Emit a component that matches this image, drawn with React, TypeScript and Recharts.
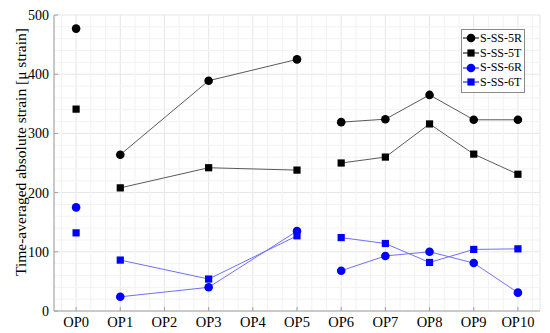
import React from 'react';
import {
  CartesianGrid,
  Legend,
  Line,
  LineChart,
  ReferenceLine,
  XAxis,
  YAxis,
} from 'recharts';

const categories = ['OP0', 'OP1', 'OP2', 'OP3', 'OP4', 'OP5', 'OP6', 'OP7', 'OP8', 'OP9', 'OP10'];

// values per category, null where nothing was measured
const s5R = [477, 264, null, 389, null, 425, 319, 324, 365, 323, 323];
const s5T = [341, 208, null, 242, null, 238, 250, 260, 316, 265, 231];
const s6R = [175, 24, null, 40, null, 135, 68, 93, 100, 81, 31];
const s6T = [132, 86, null, 54, null, 127, 124, 114, 82, 104, 105];

// points joined by a line
const segments = [[0], [1, 3, 5], [6, 7, 8, 9, 10]];

const yTicks = [0, 100, 200, 300, 400, 500];
const xTicks = categories.map((_, i) => i);

const series = [
  { name: 'S-SS-5R', values: s5R, color: '#000000', line: '#5a5a5a', shape: 'circle' },
  { name: 'S-SS-5T', values: s5T, color: '#000000', line: '#5a5a5a', shape: 'square' },
  { name: 'S-SS-6R', values: s6R, color: '#0000ff', line: '#6f6fff', shape: 'circle' },
  { name: 'S-SS-6T', values: s6T, color: '#0000ff', line: '#6f6fff', shape: 'square' },
];

// minor grid (3 per x interval, 5 per y interval)
const minorX: number[] = [];
for (let i = -1; i <= 10; i++) {
  [1 / 3, 2 / 3].forEach(f => {
    const v = i + f;
    if (v > -0.5 && v < 10.5) minorX.push(v);
  });
}
const minorY: number[] = [];
for (let v = 20; v < 500; v += 20) if (v % 100 !== 0) minorY.push(v);

const FONT = '"Liberation Serif", "DejaVu Serif", serif';
const FRAME = '#a0a0a0';

const makeDot = (shape: string, color: string, key: string) => (props: any) => {
  const { cx, cy, index } = props;
  if (cx == null || cy == null) return <g key={`${key}-${index}`} />;
  if (shape === 'circle') {
    return <circle key={`${key}-${index}`} cx={cx} cy={cy} r={4.3} fill={color} />;
  }
  return (
    <rect key={`${key}-${index}`} x={cx - 3.6} y={cy - 3.6} width={7.2} height={7.2} fill={color} />
  );
};

const LegendBox = () => (
  <div
    style={{
      border: '1px solid #8a8a8a',
      background: '#fff',
      padding: '1px 2px 2px 1px',
      fontFamily: FONT,
      fontSize: 12,
      lineHeight: '14.7px',
    }}
  >
    {series.map(s => (
      <div key={s.name} style={{ display: 'flex', alignItems: 'center', whiteSpace: 'nowrap' }}>
        <svg width={16} height={12} style={{ marginRight: 1 }}>
          <line x1={0} y1={6} x2={16} y2={6} stroke={s.color} strokeWidth={1} />
          {s.shape === 'circle' ? (
            <circle cx={8} cy={6} r={4.3} fill={s.color} />
          ) : (
            <rect x={4.4} y={2.4} width={7.2} height={7.2} fill={s.color} />
          )}
        </svg>
        <span>{s.name}</span>
      </div>
    ))}
  </div>
);

export default function App() {
  return (
    <div style={{ position: 'absolute', left: 0, top: 0, width: 550, height: 333, background: '#fff' }}>
      <style>{'body{margin:0}'}</style>
      <LineChart width={550} height={333} margin={{ top: 15, right: 10, bottom: 0, left: 0 }}>
        <CartesianGrid stroke="#e6e6e6" />
        {minorX.map(v => (
          <ReferenceLine key={`mx-${v}`} x={v} stroke="#f2f2f2" strokeWidth={1} />
        ))}
        {minorY.map(v => (
          <ReferenceLine key={`my-${v}`} y={v} stroke="#f2f2f2" strokeWidth={1} />
        ))}
        <XAxis
          type="number"
          dataKey="x"
          domain={[-0.5, 10.5]}
          ticks={xTicks}
          tickFormatter={(v: number) => categories[v]}
          allowDataOverflow
          height={22}
          tickSize={-4}
          tickMargin={10}
          stroke={FRAME}
          tick={{ fill: '#000', fontFamily: FONT, fontSize: 14.5 }}
        />
        <XAxis
          xAxisId="top"
          orientation="top"
          type="number"
          domain={[-0.5, 10.5]}
          ticks={xTicks}
          allowDataOverflow
          height={0}
          tickSize={-4}
          tickFormatter={() => ''}
          stroke={FRAME}
        />
        <YAxis
          type="number"
          domain={[0, 500]}
          ticks={yTicks}
          width={54}
          tickSize={-4}
          tickMargin={9}
          stroke={FRAME}
          tick={{ fill: '#000', fontFamily: FONT, fontSize: 14 }}
          label={{
            content: () => (
              <text
                x={20}
                y={152}
                transform="rotate(-90 20 152)"
                textAnchor="middle"
                dominantBaseline="central"
                fontFamily={FONT}
                fontSize={15.5}
                fill="#000"
              >
                Time-averaged absolute strain [μ strain]
              </text>
            ),
          }}
        />
        <YAxis
          yAxisId="right"
          orientation="right"
          type="number"
          domain={[0, 500]}
          ticks={yTicks}
          width={0}
          tickSize={-4}
          tickFormatter={() => ''}
          stroke={FRAME}
        />
        {series.flatMap(s =>
          segments.map((seg, j) => {
            const key = `${s.name}-${j}`;
            const data = seg
              .filter(i => s.values[i] != null)
              .map(i => ({ x: i, y: s.values[i] }));
            return (
              <Line
                key={key}
                data={data}
                dataKey="y"
                name={s.name}
                type="linear"
                stroke={s.line}
                strokeWidth={1}
                dot={makeDot(s.shape, s.color, key)}
                activeDot={false}
                legendType="none"
                isAnimationActive={false}
              />
            );
          })
        )}
        <Legend
          layout="vertical"
          align="center"
          verticalAlign="middle"
          wrapperStyle={{ top: 29, left: 461, width: 'auto' }}
          content={() => <LegendBox />}
        />
      </LineChart>
    </div>
  );
}
